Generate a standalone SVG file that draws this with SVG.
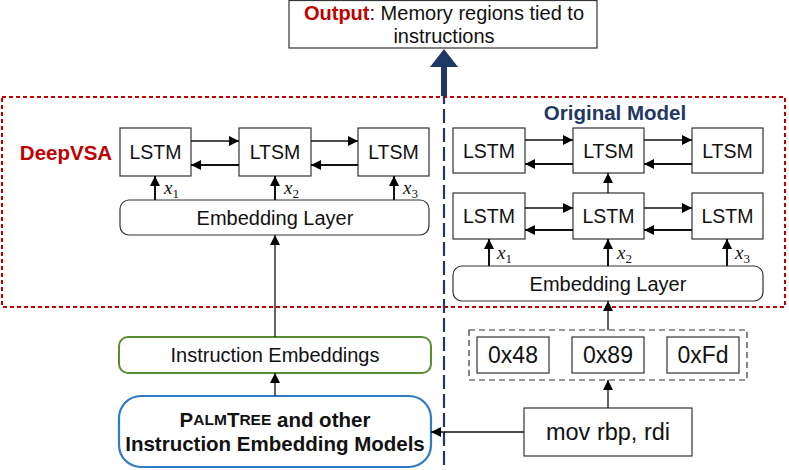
<svg xmlns="http://www.w3.org/2000/svg" width="789" height="470" viewBox="0 0 789 470">
<defs>
<marker id="ah" viewBox="0 0 10 10" refX="10" refY="5" markerWidth="10" markerHeight="10" markerUnits="userSpaceOnUse" orient="auto"><path d="M0,0 L10,5 L0,10 z" fill="#000"/></marker>
</defs>
<style>
.box{fill:#fff;stroke:#333;stroke-width:1.2}
.t{font-family:"Liberation Sans",Arial,sans-serif;fill:#111;text-anchor:middle;dominant-baseline:central}
.l{font-size:19.5px}
.e{font-size:20px}
.h{font-size:23px}
.x{font-family:"Liberation Serif","Times New Roman",serif;font-style:italic;font-size:19px;fill:#111}
.xs{font-style:normal;font-size:13px}
.c{stroke:#111;stroke-width:1.3;fill:none;marker-end:url(#ah)}
.cb{stroke:#111;stroke-width:2;fill:none;marker-end:url(#ah)}
</style>
<rect width="789" height="470" fill="#fff"/>

<!-- red dashed region -->
<rect x="2" y="97" width="783" height="210" fill="none" stroke="#c00000" stroke-width="2" stroke-dasharray="4,3"/>

<!-- navy divider -->
<line x1="444" y1="90" x2="444" y2="470" stroke="#1f3864" stroke-width="2.2" stroke-dasharray="14,5"/>

<g id="output">
<rect x="289" y="0.5" width="308" height="47.5" class="box"/>
<text class="t" x="444" y="13" font-size="20"><tspan fill="#c00000" font-weight="bold">Output</tspan>: Memory regions tied to</text>
<text class="t" x="444" y="36" font-size="20">instructions</text>
</g>
<g id="output-arrow">
<rect x="441" y="66" width="6" height="30" fill="#1f3864"/>
<path d="M444,49 L458,67 L430,67 z" fill="#1f3864"/>
</g>

<text id="deepvsa-label" class="t" x="66" y="152" font-size="20.5" font-weight="bold" style="fill:#c00000">DeepVSA</text>
<text id="original-label" class="t" x="615" y="112" font-size="20.5" font-weight="bold" style="fill:#1f3864">Original Model</text>

<g id="d-lstm1"><rect x="120" y="128" width="71" height="48" class="box"/><text class="t l" x="155.5" y="152">LSTM</text></g>
<g id="d-lstm2"><rect x="239" y="128" width="72" height="48" class="box"/><text class="t l" x="275" y="152">LTSM</text></g>
<g id="d-lstm3"><rect x="358" y="128" width="71" height="48" class="box"/><text class="t l" x="393.5" y="152">LTSM</text></g>
<g id="d-embed"><rect x="120" y="200" width="309" height="35" rx="9" class="box"/><text class="t e" x="275" y="217.5">Embedding Layer</text></g>

<g id="o-top1"><rect x="453" y="128" width="72" height="45" class="box"/><text class="t l" x="489" y="151">LSTM</text></g>
<g id="o-top2"><rect x="573" y="128" width="71" height="45" class="box"/><text class="t l" x="608.5" y="151">LTSM</text></g>
<g id="o-top3"><rect x="692" y="128" width="71" height="45" class="box"/><text class="t l" x="727.5" y="151">LTSM</text></g>
<g id="o-bot1"><rect x="453" y="193" width="72" height="46" class="box"/><text class="t l" x="489" y="216">LSTM</text></g>
<g id="o-bot2"><rect x="573" y="193" width="71" height="46" class="box"/><text class="t l" x="608.5" y="216">LSTM</text></g>
<g id="o-bot3"><rect x="692" y="193" width="71" height="46" class="box"/><text class="t l" x="727.5" y="216">LSTM</text></g>
<g id="o-embed"><rect x="453" y="266" width="310" height="35" rx="9" class="box"/><text class="t e" x="608" y="283.5">Embedding Layer</text></g>

<g id="bytes">
<rect x="469" y="330" width="278" height="50" fill="none" stroke="#333" stroke-width="1.2" stroke-dasharray="6,4"/>
<rect x="477" y="337" width="72" height="36" class="box"/><text class="t h" x="513" y="355">0x48</text>
<rect x="572" y="337" width="72" height="36" class="box"/><text class="t h" x="608" y="355">0x89</text>
<rect x="667" y="337" width="72" height="36" class="box"/><text class="t h" x="703" y="355">0xFd</text>
</g>
<g id="mov"><rect x="524" y="408" width="168" height="48" class="box"/><text class="t" x="608" y="432" font-size="23.5">mov rbp, rdi</text></g>

<g id="instr-emb"><rect x="119" y="337" width="312" height="36" rx="9" fill="#fff" stroke="#5b8c32" stroke-width="2"/><text class="t" x="275" y="354.5" font-size="20">Instruction Embeddings</text></g>
<g id="palmtree"><rect x="119" y="396" width="312" height="71" rx="22" fill="#fff" stroke="#2f7cc5" stroke-width="2.2"/>
<text class="t" x="275" y="419" font-size="20.5" font-weight="bold">P<tspan font-size="15.5">ALM</tspan>T<tspan font-size="15.5">REE</tspan> and other</text>
<text class="t" x="275" y="443" font-size="20.5" font-weight="bold">Instruction Embedding Models</text></g>

<g id="connectors">
<line x1="191" y1="141" x2="239" y2="141" class="c"/>
<line x1="239" y1="165" x2="191" y2="165" class="cb"/>
<line x1="311" y1="141" x2="358" y2="141" class="c"/>
<line x1="358" y1="165" x2="311" y2="165" class="cb"/>
<line x1="155" y1="200" x2="155" y2="176" class="cb"/>
<line x1="275" y1="200" x2="275" y2="176" class="cb"/>
<line x1="394" y1="200" x2="394" y2="176" class="cb"/>
<line x1="275" y1="337" x2="275" y2="235" class="c"/>
<line x1="275" y1="396" x2="275" y2="373" class="c"/>
<line x1="525" y1="140" x2="573" y2="140" class="c"/>
<line x1="573" y1="164" x2="525" y2="164" class="cb"/>
<line x1="644" y1="140" x2="692" y2="140" class="c"/>
<line x1="692" y1="164" x2="644" y2="164" class="cb"/>
<line x1="525" y1="208" x2="573" y2="208" class="c"/>
<line x1="573" y1="230" x2="525" y2="230" class="cb"/>
<line x1="644" y1="208" x2="692" y2="208" class="c"/>
<line x1="692" y1="230" x2="644" y2="230" class="cb"/>
<line x1="608" y1="193" x2="608" y2="173" class="c"/>
<line x1="489" y1="266" x2="489" y2="239" class="cb"/>
<line x1="608" y1="266" x2="608" y2="239" class="cb"/>
<line x1="727" y1="266" x2="727" y2="239" class="cb"/>
<line x1="608" y1="330" x2="608" y2="301" class="c"/>
<line x1="608" y1="408" x2="608" y2="380" class="c"/>
<line x1="524" y1="432" x2="431" y2="432" class="c"/>
</g>

<g id="x-labels">
<text class="x" x="164" y="194">x<tspan class="xs" dy="4">1</tspan></text>
<text class="x" x="284" y="194">x<tspan class="xs" dy="4">2</tspan></text>
<text class="x" x="403" y="194">x<tspan class="xs" dy="4">3</tspan></text>
<text class="x" x="497" y="259">x<tspan class="xs" dy="4">1</tspan></text>
<text class="x" x="617" y="259">x<tspan class="xs" dy="4">2</tspan></text>
<text class="x" x="735" y="259">x<tspan class="xs" dy="4">3</tspan></text>
</g>
</svg>
